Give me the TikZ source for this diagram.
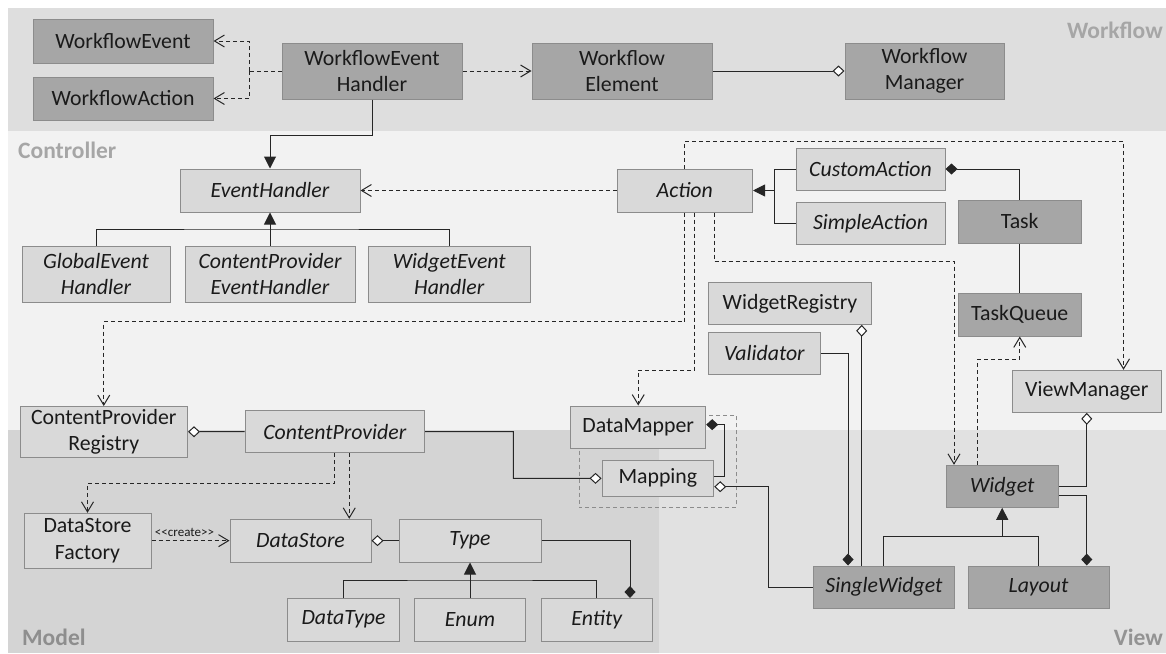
\documentclass[tikz,border=0pt]{standalone}
\usepackage{fontspec}
\setmainfont{Carlito}
\newfontfamily\plainfont{Carlito}[Ligatures=TeXOff]
\usetikzlibrary{arrows.meta}
\definecolor{wfbg}{HTML}{DEDEDE}
\definecolor{ctbg}{HTML}{F2F2F2}
\definecolor{mdbg}{HTML}{D4D4D4}
\definecolor{vwbg}{HTML}{E1E1E1}
\definecolor{lightbox}{HTML}{D9D9D9}
\definecolor{darkbox}{HTML}{A6A6A6}
\definecolor{bdr}{HTML}{8C8C8C}
\definecolor{txt}{HTML}{1A1A1A}
\definecolor{lin}{HTML}{262626}
\definecolor{lbl}{HTML}{A6A6A6}
\definecolor{lbldark}{HTML}{8E8E8E}
\newcommand\umlbox[7]{%
  \node[#1, minimum width={(#5-#3)*1pt}, minimum height={(#6-#4)*1pt}] (#2) at ({(#3+#5)/2},{(#4+#6)/2}) {#7};}
\begin{document}
\begin{tikzpicture}[x=1pt,y=-1pt,
  cls/.style={draw=bdr, line width=1pt, inner sep=0pt, align=center, text=txt,
    font=\fontsize{21.8}{26.5}\selectfont},
  lbox/.style={cls, fill=lightbox},
  dbox/.style={cls, fill=darkbox},
  ital/.style={font=\fontsize{21.8}{26.5}\selectfont\itshape},
  conn/.style={draw=lin, line width=1pt},
  depl/.style={draw=lin, line width=1pt, dash pattern=on 4pt off 3pt},
  dep/.style={depl, -{Straight Barb[length=10pt,width=12pt]}},
  inh/.style={conn, -{Triangle[length=12pt,width=12pt]}},
  aggend/.style={conn, -{Diamond[fill=white,length=12pt,width=11pt]}},
  aggstart/.style={conn, {Diamond[fill=white,length=12pt,width=11pt]}-},
  compend/.style={conn, -{Diamond[length=12pt,width=11pt]}},
  compstart/.style={conn, {Diamond[length=12pt,width=11pt]}-},
  pkg/.style={draw=bdr, line width=0.9pt, dash pattern=on 4pt off 3pt},
  bandlabel/.style={font=\fontsize{23.5}{28}\selectfont\bfseries, text=lbl, inner sep=0pt},
]
\useasboundingbox (0,0) rectangle (1166,653);
% bands
\fill[white] (0,0) rectangle (1166,653);
\fill[wfbg] (8,8) rectangle (1166,130.7);
\fill[ctbg] (8,130.7) rectangle (1166,430);
\fill[mdbg] (8,430) rectangle (659,653);
\fill[vwbg] (659,430) rectangle (1166,653);
\node[bandlabel, anchor=base east] (lwf) at (1163,38) {Workflow};
\node[bandlabel, anchor=base west] (lct) at (18,158.3) {Controller};
\node[bandlabel, anchor=base west, text=lbldark] (lmd) at (22,645) {Model};
\node[bandlabel, anchor=base east, text=lbldark!80!lbl] (lvw) at (1163,645) {View};
% package box
\draw[pkg] (579,415.7) rectangle (736.4,507.3);
% workflow
\umlbox{dbox}{wfe}{33}{19}{213}{63}{WorkflowEvent}
\umlbox{dbox}{wfa}{33}{77}{213}{120}{WorkflowAction}
\umlbox{dbox}{weh}{282}{43}{462}{99}{WorkflowEvent\\Handler}
\umlbox{dbox}{wel}{532}{43}{712}{99}{Workflow\\Element}
\umlbox{dbox}{wma}{845}{43}{1004}{99}{Workflow\\Manager}
% controller
\umlbox{lbox,ital}{eh}{180}{169}{360}{212}{EventHandler}
\umlbox{lbox,ital}{gevh}{22}{246}{170}{302}{GlobalEvent\\Handler}
\umlbox{lbox,ital}{cpeh}{185}{246}{355}{302}{ContentProvider\\EventHandler}
\umlbox{lbox,ital}{wgeh}{368.5}{246}{530}{302}{WidgetEvent\\Handler}
\umlbox{lbox,ital}{act}{617}{169}{752.5}{212}{Action}
\umlbox{lbox,ital}{cua}{796}{148}{945}{190}{CustomAction}
\umlbox{lbox,ital}{sia}{796}{202}{945}{244.5}{SimpleAction}
\umlbox{dbox}{task}{958.5}{200}{1081}{243}{Task}
\umlbox{dbox}{tq}{958.5}{293.5}{1081}{336}{TaskQueue}
\umlbox{lbox}{wr}{708.5}{282.5}{871.5}{324.3}{WidgetRegistry}
\umlbox{lbox,ital}{val}{708.5}{332.3}{820.3}{374.3}{Validator}
\umlbox{lbox}{vm}{1012.5}{370.3}{1161}{412.3}{ViewManager}
% model
\umlbox{lbox}{cpr}{20}{406.5}{187.5}{457}{ContentProvider\\Registry}
\umlbox{lbox,ital}{cp}{245}{410.7}{424.5}{452.7}{ContentProvider}
\umlbox{lbox}{dsf}{24}{513.3}{151}{568}{DataStore\\Factory}
\umlbox{lbox,ital}{ds}{230}{519.3}{371}{562}{DataStore}
\umlbox{lbox,ital}{type}{399}{519.3}{541}{562}{Type}
\umlbox{lbox,ital}{dt}{287.7}{598.5}{399.3}{641}{DataType}
\umlbox{lbox,ital}{enum}{414.4}{598.5}{525.6}{641}{Enum}
\umlbox{lbox,ital}{ent}{541}{598.5}{652.6}{641}{Entity}
\umlbox{lbox}{dm}{570.7}{406}{705.7}{448.3}{DataMapper}
\umlbox{lbox}{map}{602}{460.7}{713.7}{496}{Mapping}
% view
\umlbox{dbox,ital}{wid}{946.4}{465.3}{1058}{507.3}{Widget}
\umlbox{dbox,ital}{sw}{813.9}{566}{954}{608.3}{SingleWidget}
\umlbox{dbox,ital}{lay}{968}{566}{1109}{608.3}{Layout}
% create label
\node[font=\plainfont\fontsize{13}{15}\selectfont, text=txt, anchor=base, inner sep=0pt] (crl) at (184.5,536) {<<create>>};
% connectors: workflow
\coordinate (wj) at (249,71);
\draw[depl] (weh.west) -- (wj);
\draw[dep] (wj) |- (wfe.east);
\draw[dep] (wj) |- (wfa.east);
\draw[dep] (weh.east) -- (wel.west);
\draw[aggend] (wel.east) -- (wma.west);
\draw[inh] (weh.south) -- ++(0,36) -| (eh.north);
% controller
\coordinate (ehb) at (270,229);
\draw[conn] (gevh.north) |- (ehb) -| (wgeh.north);
\draw[inh] (cpeh.north) -- (eh.south);
\draw[dep] (act.west) -- (act.west -| eh.east);
\coordinate (aj) at (774.5,190.5);
\draw[inh] (aj) -- (act.east);
\draw[conn] (cua.west) -| (aj) |- (sia.west);
\draw[compstart] (cua.east) -| (task.north);
\draw[conn] (task.south) -- (tq.north);
\coordinate (vmj) at (1123.5,141);
\draw[dep] (act.north) |- (vmj) -- (vmj |- vm.north);
\coordinate (cprj) at (103.75,321.7);
\draw[dep] (act.south) |- (cprj) -- (cpr.north);
\coordinate (dmj) at (638.2,370);
\draw[dep] ([xshift=9.6pt]act.south) |- (dmj) -- (dm.north);
\coordinate (wdj) at (954,261);
\draw[dep] ([xshift=29.3pt]act.south) |- (wdj) -- (wdj |- wid.north);
\coordinate (tqj) at (1019.75,359.3);
\draw[dep] ([xshift=-24.5pt]wid.north) |- (tqj) -- (tq.south);
\coordinate (wrx) at (861.7,0);
\draw[aggstart] (wr.south -| wrx) -- (sw.north -| wrx);
\coordinate (vlx) at (848,0);
\draw[compend] (val.east) -| (sw.north -| vlx);
% model
\draw[compstart] ([yshift=2.5pt]dm.east) -- ++(18,0) |- ([yshift=2.35pt]map.east);
\coordinate (mpj) at (768,486.7);
\draw[aggstart] ([yshift=-8.35pt]map.east) -- (mpj) |- (sw.west);
\coordinate (cpj) at (513.3,478.35);
\draw[aggend] (cp.east) -| (cpj) -- (map.west);
\draw[aggstart] (cpr.east) -- (cp.west);
\coordinate (dsfj) at (87.5,483.3);
\draw[dep] (cp.south) |- (dsfj) -- (dsf.north);
\coordinate (cpd) at ([xshift=14.5pt]cp.south);
\draw[dep] (cpd) -- (cpd |- ds.north);
\draw[dep] (dsf.east) -- (ds.west);
\draw[aggstart] (ds.east) -- (type.west);
\coordinate (enx) at (630,0);
\draw[compend] (type.east) -| (ent.north -| enx);
\coordinate (tyj) at (470,580);
\draw[conn] (dt.north) |- (tyj) -| (ent.north);
\draw[inh] (enum.north) -- (type.south);
% view
\coordinate (wgj) at (1002.2,536.7);
\draw[conn] (sw.north) |- (wgj) -| (lay.north);
\draw[inh] (wgj) -- (wid.south);
\draw[aggend] (wid.east) -| (vm.south);
\draw[compend] ([yshift=-8.7pt]wid.east) -| (lay.north -| vm.south);
\end{tikzpicture}
\end{document}
